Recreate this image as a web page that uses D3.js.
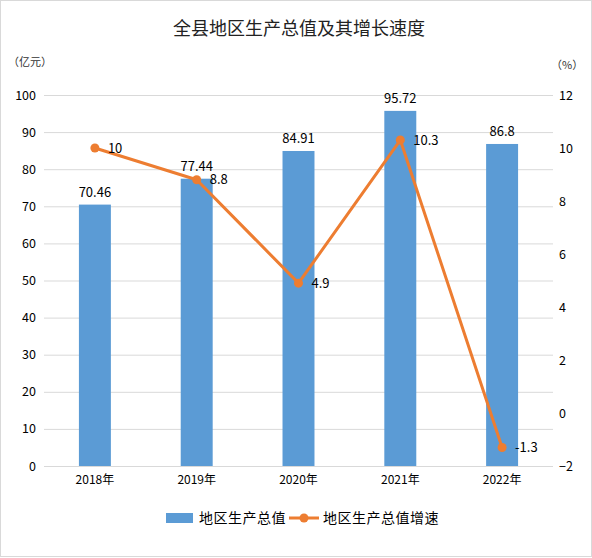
<!DOCTYPE html>
<html>
<head>
<meta charset="utf-8">
<script src="https://cdn.jsdelivr.net/npm/d3@7"></script>
<style>
  body { margin: 0; background: #fff; }
  svg { display: block; font-family: "Noto Sans CJK SC", "Liberation Sans", sans-serif; }
</style>
</head>
<body>
<svg id="chart" width="592" height="558"></svg>
<script>
// data
const years = ["2018年", "2019年", "2020年", "2021年", "2022年"];
const gdp = [70.46, 77.44, 84.91, 95.72, 86.8];
const growth = [10, 8.8, 4.9, 10.3, -1.3];
const leftTicks = [0, 10, 20, 30, 40, 50, 60, 70, 80, 90, 100];
const rightTicks = [-2, 0, 2, 4, 6, 8, 10, 12];

const W = 592, H = 558;
const plot = {left: 44, right: 553, top: 95, bottom: 466};
const barColor = "#5B9BD5", lineColor = "#ED7D31";

const svg = d3.select("#chart");

// outer frame
svg.append("rect")
  .attr("x", 0.5).attr("y", 0.5)
  .attr("width", W - 1).attr("height", H - 2)
  .attr("fill", "#fff").attr("stroke", "#D9D9D9");

svg.append("text")
  .attr("x", 299).attr("y", 35)
  .attr("text-anchor", "middle")
  .attr("font-size", 18).attr("fill", "#222")
  .text("全县地区生产总值及其增长速度");

const x = d3.scaleBand().domain(years)
  .range([plot.left, plot.right])
  .paddingInner(0.686).paddingOuter(0.343);
const yL = d3.scaleLinear().domain([0, 100]).range([plot.bottom, plot.top]);
const yR = d3.scaleLinear().domain([-2, 12]).range([plot.bottom, plot.top]);
const cx = d => x(d) + x.bandwidth() / 2;

// grid
svg.append("g").selectAll("line")
  .data(leftTicks)
  .join("line")
  .attr("x1", plot.left).attr("x2", plot.right)
  .attr("y1", d => yL(d) + 0.5).attr("y2", d => yL(d) + 0.5)
  .attr("stroke", "#D9D9D9").attr("stroke-width", 1);

// left axis labels
const axisL = d3.axisLeft(yL).tickValues(leftTicks).tickSize(0).tickPadding(8);
svg.append("g")
  .attr("transform", `translate(${plot.left},0)`)
  .call(axisL)
  .call(g => g.select(".domain").remove())
  .selectAll("text")
  .attr("font-size", 12.5).attr("fill", "#000")
  .attr("font-family", "'Noto Sans CJK SC', sans-serif");

const axisR = d3.axisRight(yR).tickValues(rightTicks).tickSize(0).tickPadding(6);
svg.append("g")
  .attr("transform", `translate(${plot.right},0)`)
  .call(axisR)
  .call(g => g.select(".domain").remove())
  .selectAll("text")
  .attr("font-size", 12.5).attr("fill", "#000")
  .attr("font-family", "'Noto Sans CJK SC', sans-serif");

const axisB = d3.axisBottom(x).tickSize(0).tickPadding(9);
svg.append("g")
  .attr("transform", `translate(0,${plot.bottom})`)
  .call(axisB)
  .call(g => g.select(".domain").remove())
  .selectAll("text")
  .attr("font-size", 12).attr("fill", "#000")
  .attr("font-family", "'Noto Sans CJK SC', sans-serif");

// unit labels
svg.append("text").attr("x", 8).attr("y", 66)
  .attr("font-size", 11).attr("fill", "#333").text("（亿元）");
svg.append("text").attr("x", 551).attr("y", 69)
  .attr("font-size", 11).attr("fill", "#333").text("（%）");

// bars
svg.append("g").selectAll("rect")
  .data(gdp)
  .join("rect")
  .attr("x", (d, i) => x(years[i]))
  .attr("width", x.bandwidth())
  .attr("y", d => yL(d))
  .attr("height", d => yL(0) - yL(d))
  .attr("fill", barColor);

svg.append("g").selectAll("text")
  .data(gdp)
  .join("text")
  .attr("x", (d, i) => cx(years[i]))
  .attr("y", d => yL(d) - 8)
  .attr("text-anchor", "middle")
  .attr("font-size", 13).attr("fill", "#000")
  .text(d => d);

// growth line
const line = d3.line()
  .x((d, i) => cx(years[i]))
  .y(d => yR(d));

svg.append("path")
  .datum(growth)
  .attr("d", line)
  .attr("fill", "none")
  .attr("stroke", lineColor)
  .attr("stroke-width", 3)
  .attr("stroke-linejoin", "round");

svg.append("g").selectAll("circle")
  .data(growth)
  .join("circle")
  .attr("cx", (d, i) => cx(years[i]))
  .attr("cy", d => yR(d))
  .attr("r", 4.5)
  .attr("fill", lineColor);

svg.append("g").selectAll("text")
  .data(growth)
  .join("text")
  .attr("x", (d, i) => cx(years[i]) + 13)
  .attr("y", d => yR(d))
  .attr("dy", "0.35em")
  .attr("font-size", 13).attr("fill", "#000")
  .text(d => d);

// legend
const lg = svg.append("g").attr("transform", "translate(0,518)");
lg.append("rect").attr("x", 166).attr("y", -5).attr("width", 27).attr("height", 10)
  .attr("fill", barColor);
lg.append("text").attr("x", 199).attr("y", 0).attr("dy", "0.35em")
  .attr("font-size", 14).attr("fill", "#000").attr("letter-spacing", 0.5)
  .text("地区生产总值");
lg.append("line").attr("x1", 289).attr("x2", 319).attr("y1", 0).attr("y2", 0)
  .attr("stroke", lineColor).attr("stroke-width", 3);
lg.append("circle").attr("cx", 304).attr("cy", 0).attr("r", 4.5).attr("fill", lineColor);
lg.append("text").attr("x", 323).attr("y", 0).attr("dy", "0.35em")
  .attr("font-size", 14).attr("fill", "#000").attr("letter-spacing", 0.5)
  .text("地区生产总值增速");
</script>
</body>
</html>
